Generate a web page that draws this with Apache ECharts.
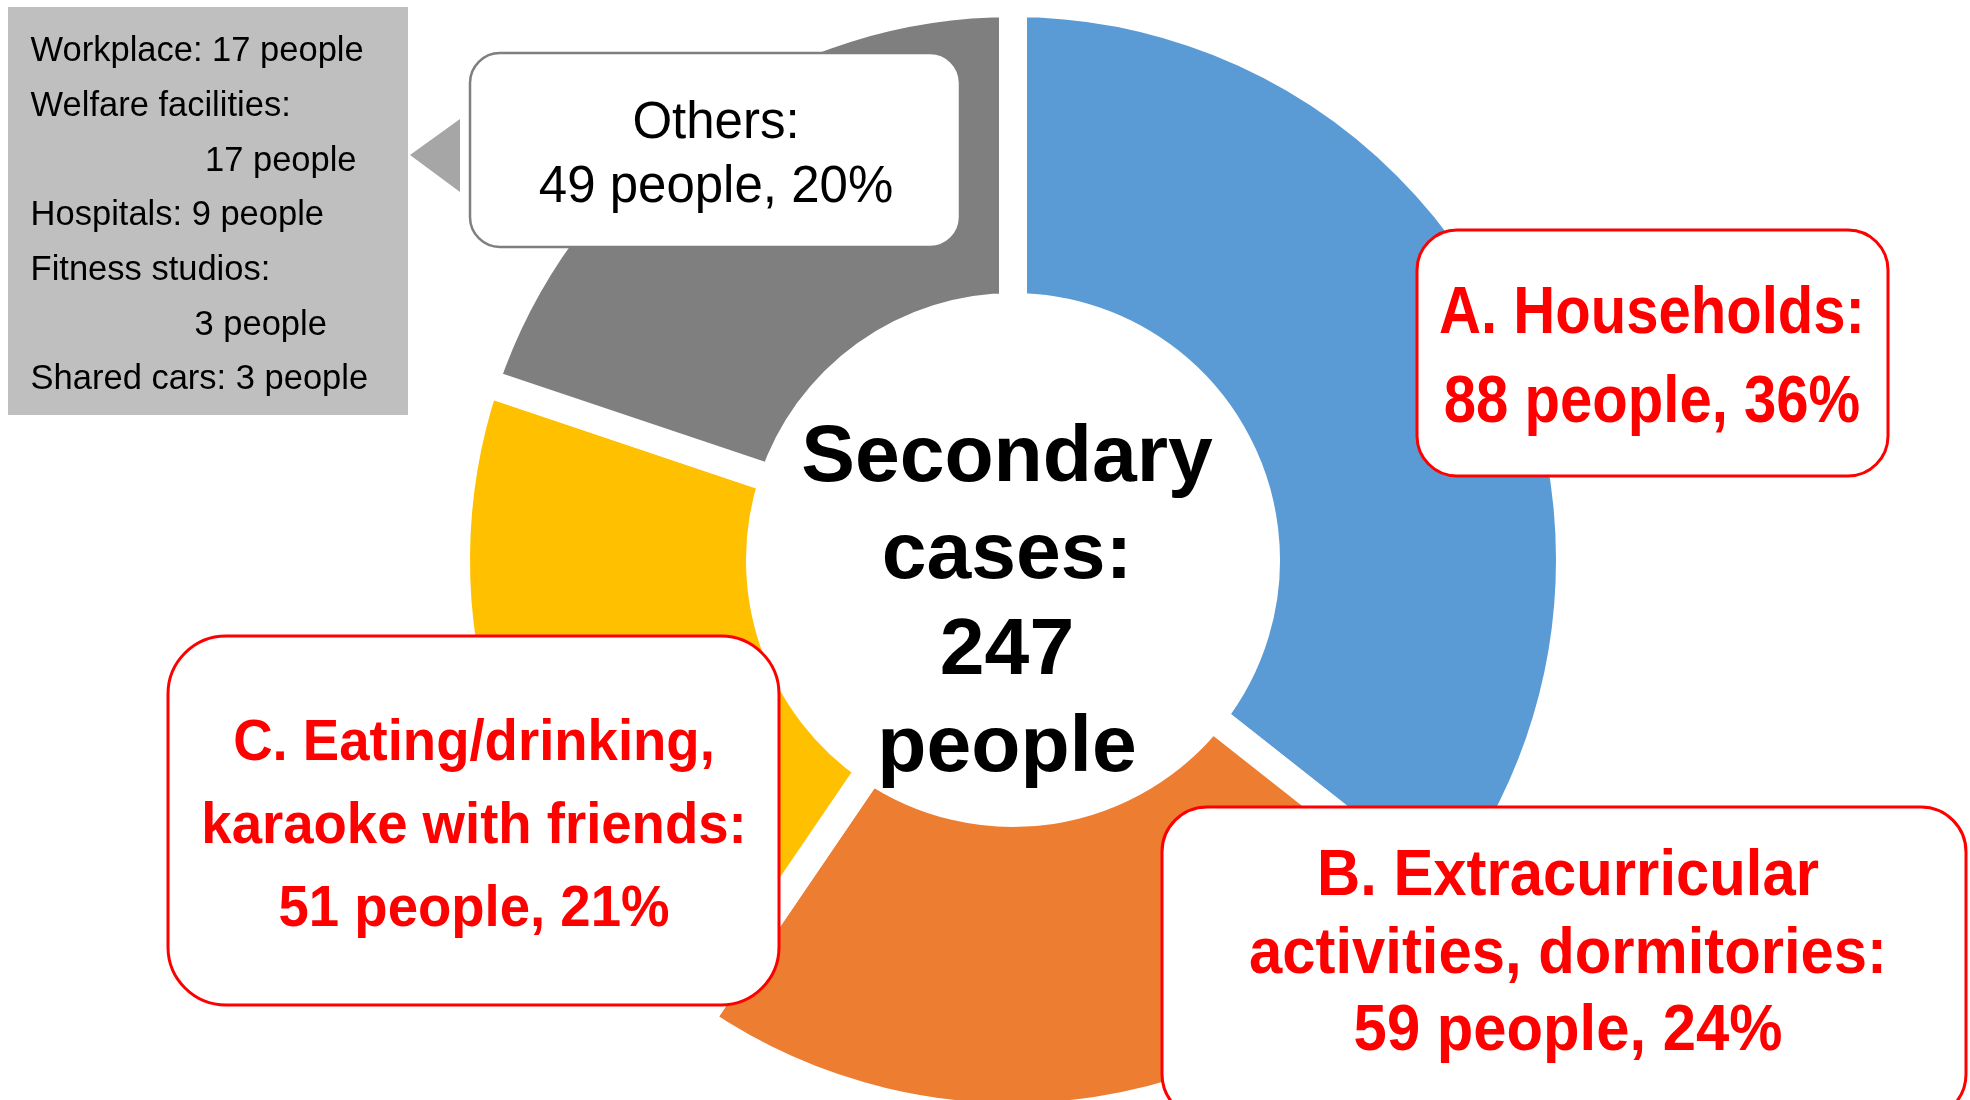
<!DOCTYPE html>
<html>
<head>
<meta charset="utf-8">
<script src="https://cdn.jsdelivr.net/npm/echarts@6/dist/echarts.min.js"></script>
<style>
html,body{margin:0;padding:0;background:#fff;}
#chart{width:1970px;height:1100px;}
</style>
</head>
<body>
<div id="chart"></div>
<script>
// ---- data ----
const categories = ['A. Households', 'B. Extracurricular activities, dormitories', 'C. Eating/drinking, karaoke with friends', 'Others'];
const values = [88, 59, 51, 49];
const percents = [36, 24, 21, 20];
const colors = ['#5B9BD5', '#ED7D31', '#FFC000', '#7F7F7F'];
const breakdownNames = ['Workplace', 'Welfare facilities', 'Hospitals', 'Fitness studios', 'Shared cars'];
const breakdownValues = [17, 17, 9, 3, 3];

const total = values.reduce((a, b) => a + b, 0);
const FONT = '"Liberation Sans", Arial, Helvetica, sans-serif';

const chart = echarts.init(document.getElementById('chart'), null, {renderer: 'canvas'});

function textLine(x, baseline, text, size, opts) {
  opts = opts || {};
  return {
    type: 'text',
    x: x,
    y: baseline - size * 0.3,
    scaleX: opts.scaleX || 1,
    z: 20,
    style: {
      text: text,
      fill: opts.fill || '#000',
      font: (opts.bold ? 'bold ' : '') + size + 'px ' + FONT,
      align: opts.align || 'center',
      verticalAlign: 'middle'
    }
  };
}

function box(x, y, w, h, r, stroke, lw) {
  return {
    type: 'rect', z: 10,
    shape: {x: x, y: y, width: w, height: h, r: r},
    style: {fill: '#fff', stroke: stroke, lineWidth: lw}
  };
}

const pct = i => values[i] + ' people, ' + percents[i] + '%';

// label lines per box
const labelA = ['A. Households:', pct(0)];
const labelB = ['B. Extracurricular', 'activities, dormitories:', pct(1)];
const labelC = ['C. Eating/drinking,', 'karaoke with friends:', pct(2)];
const labelO = ['Others:', pct(3)];
const centerLines = ['Secondary', 'cases:', String(total), 'people'];

const graphics = [];

// grey breakdown panel
graphics.push({type: 'rect', z: 10, shape: {x: 8, y: 7, width: 400, height: 408}, style: {fill: '#BFBFBF'}});
graphics.push({type: 'polygon', z: 10, shape: {points: [[410, 155], [460, 119], [460, 192]]}, style: {fill: '#A6A6A6'}});
const bLines = [
  [30.6, breakdownNames[0] + ': ' + breakdownValues[0] + ' people'],
  [30.6, breakdownNames[1] + ':'],
  [205, breakdownValues[1] + ' people'],
  [30.6, breakdownNames[2] + ': ' + breakdownValues[2] + ' people'],
  [30.6, breakdownNames[3] + ':'],
  [194.5, breakdownValues[3] + ' people'],
  [30.6, breakdownNames[4] + ': ' + breakdownValues[4] + ' people']
];
bLines.forEach((l, i) => graphics.push(textLine(l[0], 62 + i * 54.7, l[1], 34.5, {align: 'left'})));

// Others callout
graphics.push(box(470, 53, 490, 194, 30, '#7F7F7F', 2.5));
labelO.forEach((t, i) => graphics.push(textLine(716, 139 + i * 64, t, 51)));

// A
graphics.push(box(1417, 230, 471, 246, 40, '#FF0000', 3));
labelA.forEach((t, i) => graphics.push(textLine(1652, 335 + i * 89, t, 66, {bold: true, fill: '#FF0000', scaleX: 0.88})));

// B
graphics.push(box(1162, 807, 804, 312, 45, '#FF0000', 3));
labelB.forEach((t, i) => graphics.push(textLine(1568, 897 + i * 77.5, t, 65, {bold: true, fill: '#FF0000', scaleX: 0.92})));

// C
graphics.push(box(168, 636, 611, 369, 58, '#FF0000', 3));
labelC.forEach((t, i) => graphics.push(textLine(474, 761 + i * 83, t, 58, {bold: true, fill: '#FF0000', scaleX: 0.94})));

// centre
centerLines.forEach((t, i) => graphics.push(textLine(1007, 483 + i * 96.5, t, 80.5, {bold: true})));

chart.setOption({
  animation: false,
  backgroundColor: '#fff',
  series: [{
    type: 'pie',
    center: [1013, 560],
    radius: [253, 557],
    startAngle: 90,
    clockwise: true,
    silent: true,
    label: {show: false},
    labelLine: {show: false},
    itemStyle: {borderColor: '#fff', borderWidth: 28, borderJoin: 'miter'},
    data: categories.map((c, i) => ({name: c, value: values[i], itemStyle: {color: colors[i]}}))
  }],
  graphic: {elements: graphics}
});
</script>
</body>
</html>
